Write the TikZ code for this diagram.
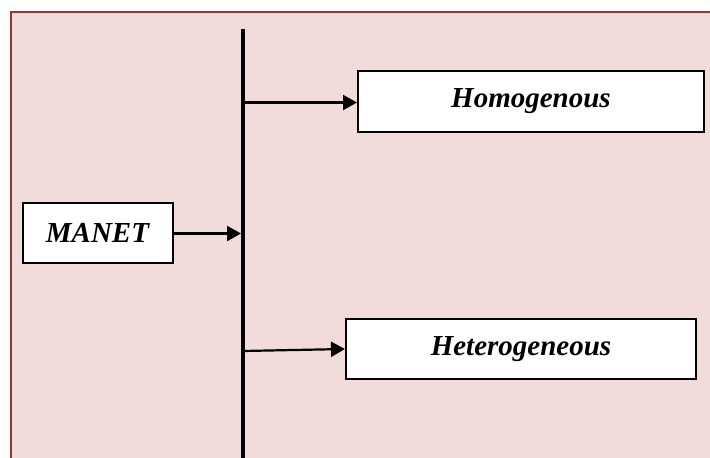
\documentclass[tikz,border=0pt]{standalone}
\usepackage{fontspec}
\setmainfont{Liberation Serif}
\usetikzlibrary{arrows.meta}
\definecolor{bgpink}{HTML}{F2DCDB}
\definecolor{framered}{HTML}{953735}
\tikzset{
  labelbox/.style={draw=black, line width=2pt, fill=white, inner sep=0pt,
    font=\fontsize{29}{33}\selectfont\bfseries\itshape},
  conn/.style={line width=2.2pt, -{Triangle[length=14pt,width=15pt]}},
}
\begin{document}
\begin{tikzpicture}[x=1pt,y=-1pt]
\useasboundingbox (0,0) rectangle (710,458);
\clip (0,0) rectangle (710,458);
\fill[white] (0,0) rectangle (710,458);
\draw[framered, line width=1.6pt, fill=bgpink] (11,12) rectangle (730,480);
% vertical bus
\coordinate (top) at (243,29);
\coordinate (bot) at (243,470);
\draw[line width=4pt] (top) -- (bot);
% boxes
\node[labelbox, minimum width=346pt, minimum height=61pt] (homo) at (531,101) {Homogenous};
\node[labelbox, minimum width=150pt, minimum height=60pt] (manet) at (97.5,233) {MANET};
\node[labelbox, minimum width=350pt, minimum height=60pt] (hetero) at (521,349) {Heterogeneous};
% connection points on bus
\coordinate (j1) at (243,102.5);
\coordinate (j2) at (241,233.5);
\coordinate (j3) at (243,351);
\draw[conn] (j1) -- (homo.west |- j1);
\draw[conn] (manet.east |- j2) -- (j2);
\draw[conn] (j3) -- (hetero.west);
\end{tikzpicture}
\end{document}
